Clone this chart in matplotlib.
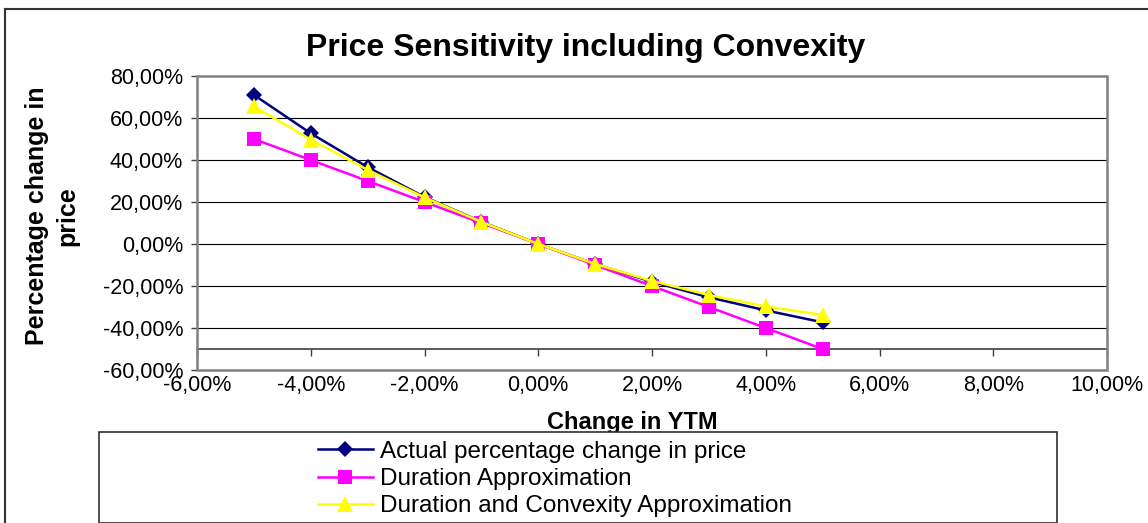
"""Price sensitivity of a bond to yield changes: actual vs duration and
duration+convexity approximations."""
import matplotlib
matplotlib.use("Agg")
import matplotlib.pyplot as plt
from matplotlib.lines import Line2D
from matplotlib.patches import Rectangle
from matplotlib.ticker import FuncFormatter, MultipleLocator

plt.rcParams["font.family"] = ["Liberation Sans", "DejaVu Sans"]

# change in yield to maturity
ytm_change = [-0.05, -0.04, -0.03, -0.02, -0.01, 0.0, 0.01, 0.02, 0.03, 0.04, 0.05]
# percentage change in price
actual = [0.710, 0.527, 0.366, 0.224, 0.106, 0.0, -0.095, -0.180, -0.254, -0.316, -0.373]
duration = [0.50, 0.40, 0.30, 0.20, 0.10, 0.0, -0.10, -0.20, -0.30, -0.40, -0.50]
dur_conv = [0.655, 0.497, 0.353, 0.222, 0.105, 0.0, -0.095, -0.176, -0.243, -0.297, -0.338]

labels = ["Actual percentage change in price",
          "Duration Approximation",
          "Duration and Convexity Approximation"]

W, H = 1148, 523
fig = plt.figure(figsize=(W / 100, H / 100), dpi=100)
ax = fig.add_axes([197 / W, 1 - 370 / H, 910 / W, 294 / H])


def pct(v, _pos=None):
    return f"{v * 100:.2f}".replace(".", ",").replace("-0,00", "0,00") + "%"


ax.plot(ytm_change, actual, color="#000080", lw=1.8, marker="D", ms=8,
        markeredgewidth=0, zorder=3, clip_on=False)
ax.plot(ytm_change, duration, color="#FF00FF", lw=1.8, marker="s", ms=10,
        markeredgewidth=0, zorder=4, clip_on=False)
ax.plot(ytm_change, dur_conv, color="#FFFF00", lw=1.8, marker="^", ms=11,
        markeredgewidth=0, zorder=5, clip_on=False)

ax.set_xlim(-0.06, 0.10)
ax.set_ylim(-0.60, 0.80)
ax.xaxis.set_major_locator(MultipleLocator(0.02))
ax.yaxis.set_major_locator(MultipleLocator(0.20))
ax.xaxis.set_major_formatter(FuncFormatter(pct))
ax.yaxis.set_major_formatter(FuncFormatter(pct))

# horizontal gridlines
for y in [-0.4, -0.2, 0.0, 0.2, 0.4, 0.6]:
    ax.axhline(y, color="black", lw=0.8, zorder=1)

# category axis crosses at -50%
for s in ["top", "right", "left"]:
    ax.spines[s].set_visible(False)
ax.spines["bottom"].set_position(("data", -0.5))
ax.spines["bottom"].set_color("#404040")
ax.spines["bottom"].set_linewidth(1.2)
ax.tick_params(axis="x", direction="out", length=5, width=1, color="#404040",
               pad=14, labelsize=15.5)
ax.tick_params(axis="y", direction="out", length=4, width=1, color="#404040",
               pad=6, labelsize=15.5)

# plot-area frame
ax.add_patch(Rectangle((0, 0), 1, 1, transform=ax.transAxes, fill=False,
                       edgecolor="#808080", lw=1.8, zorder=6, clip_on=False))

fig.text(0.51, 1 - 48 / H, "Price Sensitivity including Convexity",
         ha="center", va="center", fontsize=23, fontweight="bold")
fig.text(52 / W, 1 - 216 / H, "Percentage change in\nprice", rotation=90,
         ha="center", va="center", fontsize=18, fontweight="bold",
         multialignment="center", linespacing=1.35)
fig.text(632 / W, 1 - 429 / H, "Change in YTM", ha="center", va="baseline",
         fontsize=17, fontweight="bold")

# legend box (covers the bottom of the axis title)
fig.patches.append(Rectangle((99 / W, 0), 958 / W, 1 - 432 / H,
                             transform=fig.transFigure, facecolor="white",
                             edgecolor="#303030", lw=1.2, zorder=10))
handles = [
    Line2D([], [], color="#000080", lw=1.8, marker="D", ms=8, markeredgewidth=0),
    Line2D([], [], color="#FF00FF", lw=1.8, marker="s", ms=10, markeredgewidth=0),
    Line2D([], [], color="#FFFF00", lw=1.8, marker="^", ms=11, markeredgewidth=0),
]
leg = fig.legend(handles, labels, loc="center left",
                 bbox_to_anchor=(318 / W, 1 - 479 / H), frameon=False,
                 fontsize=17.5, handlelength=2.26, handletextpad=0.3,
                 labelspacing=0.22, borderpad=0, borderaxespad=0)
leg.set_zorder(11)

# outer chart border
fig.add_artist(Line2D([5 / W, 5 / W], [0, 1 - 9 / H], color="#333333", lw=1.5))
fig.add_artist(Line2D([5 / W, 1], [1 - 9 / H, 1 - 9 / H], color="#333333", lw=1.5))

fig.savefig("out.png", dpi=100)
